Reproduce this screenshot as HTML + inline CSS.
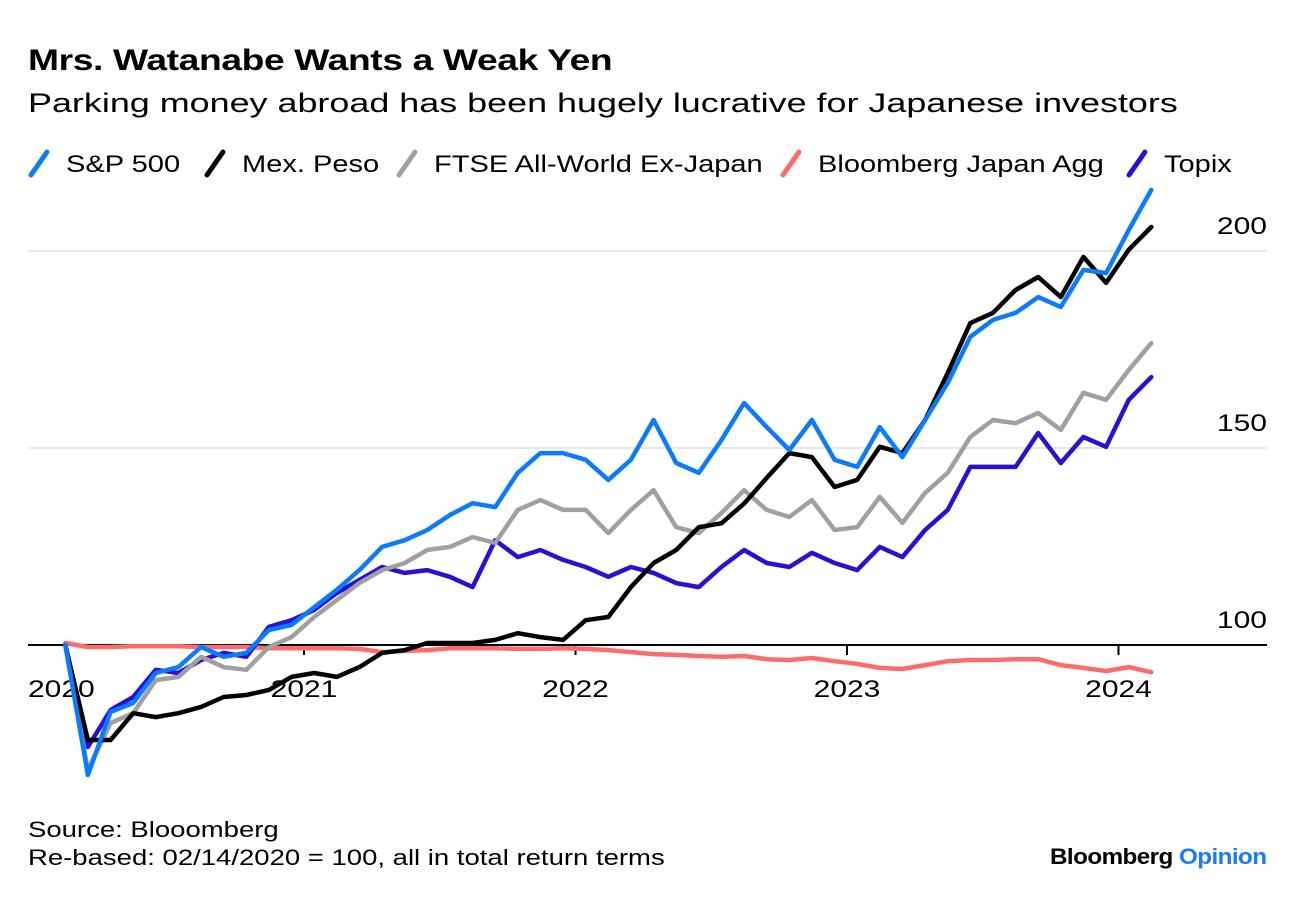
<!DOCTYPE html>
<html><head><meta charset="utf-8">
<style>
body{margin:0;background:#fff;font-family:"Liberation Sans",sans-serif;}
#wrap{position:relative;width:1296px;height:900px;overflow:hidden;}
.t{position:absolute;white-space:nowrap;color:#000;transform-origin:0 50%;}
</style></head>
<body>
<div id="wrap">
<div class="t" style="left:28px;top:44px;font-size:30px;font-weight:bold;letter-spacing:-0.3px;transform:scaleX(1.24)">Mrs. Watanabe Wants a Weak Yen</div>
<div class="t" style="left:28px;top:88px;font-size:27px;transform:scaleX(1.33)">Parking money abroad has been hugely lucrative for Japanese investors</div>
<svg id="chart" width="1296" height="900" style="position:absolute;left:0;top:0"></svg>
<div class="t" style="left:28px;top:817px;font-size:22px;transform:scaleX(1.25)">Source: Blooomberg</div>
<div class="t" style="left:28px;top:845px;font-size:22px;transform:scaleX(1.25)">Re-based: 02/14/2020 = 100, all in total return terms</div>
<div class="t" style="left:1050px;top:844px;font-size:22px;font-weight:bold;letter-spacing:-0.5px;transform:scaleX(1.1)">Bloomberg <span style="color:#1a7cf5">Opinion</span></div>
</div>
<script>
const months = ["2020-02","2020-03","2020-04","2020-05","2020-06","2020-07","2020-08","2020-09","2020-10","2020-11","2020-12","2021-01","2021-02","2021-03","2021-04","2021-05","2021-06","2021-07","2021-08","2021-09","2021-10","2021-11","2021-12","2022-01","2022-02","2022-03","2022-04","2022-05","2022-06","2022-07","2022-08","2022-09","2022-10","2022-11","2022-12","2023-01","2023-02","2023-03","2023-04","2023-05","2023-06","2023-07","2023-08","2023-09","2023-10","2023-11","2023-12","2024-01","2024-02"];
const sp500 = [100,67,83,85.3,92.9,94.4,99.5,97,98,103.8,105.1,109.6,114,119,124.9,126.6,129.2,133,136,135,143.7,148.7,148.7,147,141.9,147,157.1,146.2,143.7,152,161.4,155.3,149.5,157.1,147,145.2,155.3,147.7,157.1,166.5,178.2,182.5,184.3,188.3,185.8,195.2,194.4,205.3,215.5];
const peso = [100,75.9,75.9,82.7,81.7,82.7,84.3,86.8,87.3,88.6,91.9,92.9,91.9,94.4,98,98.7,100.5,100.5,100.5,101.3,103,102,101.3,106.3,107.1,114.7,120.8,124.1,129.9,130.9,135.9,142.4,148.7,147.7,140.1,141.9,150.3,148.7,157.1,169,181.7,184.3,190.1,193.4,188.3,198.5,191.9,200.3,206.1];
const ftse = [100,68.3,80.2,82.7,91.1,91.9,97,94.4,93.7,99.5,102,107.1,111.4,115.7,119,120.8,124.1,124.9,127.4,125.9,134.3,136.8,134.3,134.3,128.4,134.3,139.3,129.9,128.4,133.5,139.3,134.3,132.5,136.8,129.2,129.9,137.6,131,138.6,143.7,152.8,157.1,156.3,158.9,154.6,164,162.2,169.8,176.6];
const japanAgg = [100.5,99.5,99.5,99.7,99.7,99.7,99.5,99.5,99.5,99.2,99.2,99.2,99.2,99,98.2,98.5,98.7,99.2,99.2,99.2,99,99,99.2,99,98.7,98.2,97.7,97.5,97.2,97,97.2,96.4,96.2,96.7,95.9,95.2,94.2,93.9,94.9,95.9,96.2,96.2,96.4,96.4,94.9,94.2,93.4,94.4,93.1];
const topix = [100,74.1,83.5,86.8,93.7,92.9,96.2,98,97,104.6,106.3,108.9,113.2,116.5,119.8,118.3,119,117.3,114.7,126.6,122.3,124.1,121.6,119.8,117.3,119.8,118.3,115.7,114.7,119.8,124.1,120.8,119.8,123.4,120.8,119,124.9,122.3,129.2,134.3,145.2,145.2,145.2,153.8,146.2,152.8,150.3,162.2,168];
const yTicks = [100,150,200];
const xTicks = ["2020","2021","2022","2023","2024"];

const NS="http://www.w3.org/2000/svg";
const svg=document.getElementById('chart');
function yearFrac(m){const [y,mo]=m.split('-').map(Number);return y+(mo-1+0.45)/12;}
function xScale(yf){return 32.5+(yf-2020)*271.5;}
function yScale(v){return 645-(v-100)*3.94;}
function mk(tag,attrs){const e=document.createElementNS(NS,tag);for(const k in attrs)e.setAttribute(k,attrs[k]);svg.appendChild(e);return e;}
function widen(t,f){const w=t.getComputedTextLength();t.setAttribute('textLength',(w*f).toFixed(1));t.setAttribute('lengthAdjust','spacingAndGlyphs');}

yTicks.forEach(v=>{
  if(v!==100){const g=mk('line',{x1:28,x2:1267,y1:yScale(v),y2:yScale(v),stroke:'#e8e8e8','stroke-width':2});
  
  }
  const t=mk('text',{x:1267,y:yScale(v)-17,'text-anchor':'end','font-size':24,'font-family':'Liberation Sans, sans-serif'});
  t.textContent=v;
  
  
  widen(t,1.25);
});
const base=mk('line',{x1:28,x2:1267,y1:yScale(100),y2:yScale(100),stroke:'#000','stroke-width':2});


xTicks.forEach((lab,i)=>{
  const x=xScale(Number(lab));
  if(i>0){const tk=mk('line',{x1:x,x2:x,y1:645,y2:655,stroke:'#000','stroke-width':2});
  
  }
  const t=mk('text',{x:i===0?28:x,y:697,'text-anchor':i===0?'start':'middle','font-size':24,'font-family':'Liberation Sans, sans-serif'});
  t.textContent=lab;
  
  
  widen(t,1.25);
});
const series=[
 {name:'japan-agg-line',data:japanAgg,color:'#ff6b6b'},
 {name:'topix-line',data:topix,color:'#2a0fd6'},
 {name:'ftse-line',data:ftse,color:'#a0a0a0'},
 {name:'peso-line',data:peso,color:'#000000'},
 {name:'sp500-line',data:sp500,color:'#0a7bff'}
];
series.forEach(s=>{
  const d=s.data.map((v,i)=>(i?'L':'M')+xScale(yearFrac(months[i])).toFixed(1)+','+yScale(v).toFixed(1)).join(' ');
  const p=mk('path',{d:d,fill:'none',stroke:s.color,'stroke-width':4.5,'stroke-linejoin':'round','stroke-linecap':'round'});
  
  
});
const legend=[['S&P 500','#0a7bff',28],['Mex. Peso','#000',204],['FTSE All-World Ex-Japan','#a0a0a0',396],['Bloomberg Japan Agg','#ff6b6b',780],['Topix','#2a0fd6',1126]];
legend.forEach(l=>{
  const ln=mk('line',{x1:l[2]+3,y1:175,x2:l[2]+19,y2:152,stroke:l[1],'stroke-width':5,'stroke-linecap':'round'});
  
  
  const t=mk('text',{x:l[2]+38,y:172,'font-size':24,'font-family':'Liberation Sans, sans-serif'});
  t.textContent=l[0];
  
  
  widen(t,1.21);
});
</script>
</body></html>
